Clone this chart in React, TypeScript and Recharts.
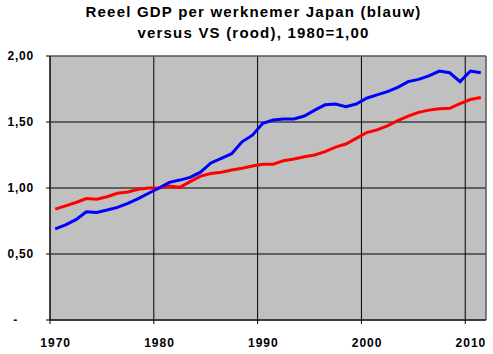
import { CartesianGrid, Line, LineChart, ReferenceArea, XAxis, YAxis } from "recharts";

const years = [
  1970, 1971, 1972, 1973, 1974, 1975, 1976, 1977, 1978, 1979,
  1980, 1981, 1982, 1983, 1984, 1985, 1986, 1987, 1988, 1989,
  1990, 1991, 1992, 1993, 1994, 1995, 1996, 1997, 1998, 1999,
  2000, 2001, 2002, 2003, 2004, 2005, 2006, 2007, 2008, 2009,
  2010, 2011,
];

// Japan (blauw)
const japan = [
  0.69, 0.72, 0.76, 0.82, 0.815, 0.833, 0.853, 0.884, 0.92, 0.96,
  1.0, 1.043, 1.06, 1.08, 1.12, 1.19, 1.225, 1.26, 1.35, 1.4,
  1.49, 1.515, 1.523, 1.523, 1.545, 1.59, 1.63, 1.636, 1.616, 1.636,
  1.68, 1.705, 1.73, 1.763, 1.806, 1.823, 1.85, 1.886, 1.873, 1.806,
  1.886, 1.873,
];

// VS (rood)
const vs = [
  0.84, 0.865, 0.89, 0.92, 0.915, 0.934, 0.96, 0.97, 0.99, 1.0,
  1.0, 1.015, 1.005, 1.048, 1.09, 1.11, 1.12, 1.136, 1.15, 1.167,
  1.18, 1.18, 1.207, 1.22, 1.237, 1.25, 1.275, 1.31, 1.333, 1.376,
  1.42, 1.44, 1.47, 1.51, 1.545, 1.573, 1.59, 1.6, 1.604, 1.64,
  1.67, 1.685,
];

const yTicks = [0, 0.5, 1, 1.5, 2];
// category boundaries (Excel draws gridlines between categories)
const xBoundaries = [1969.5, 1979.5, 1989.5, 1999.5, 2009.5];

const data = years.map((y, i) => ({ year: y, japan: japan[i], vs: vs[i] }));

const W = 493;
const H = 354;
const PLOT_LEFT = 50;
const PLOT_RIGHT = 486;
const HALF_YEAR = (PLOT_RIGHT - PLOT_LEFT) / years.length / 2;

const font = "'Liberation Sans', Arial, sans-serif";

function XTick(props: any) {
  const { x, y, payload } = props;
  return (
    <text
      x={x + HALF_YEAR + 0.5}
      y={y}
      dy="0.71em"
      textAnchor="middle"
      fontFamily={font}
      fontWeight="bold"
      fontSize={12}
      letterSpacing={1}
      fill="#000"
    >
      {Math.round(payload.value + 0.5)}
    </text>
  );
}

function YTick(props: any) {
  const { x, y, payload } = props;
  const v = payload.value as number;
  const label = v === 0 ? "-" : v.toFixed(2).replace(".", ",");
  return (
    <text
      x={v === 0 ? x - 15 : x + 1}
      y={y}
      dy="0.355em"
      textAnchor="end"
      fontFamily={font}
      fontWeight="bold"
      fontSize={12}
      letterSpacing={0.8}
      fill="#000"
    >
      {label}
    </text>
  );
}

export default function App() {
  return (
    <div style={{ position: "absolute", left: 0, top: 0, width: W, height: H, background: "#fff" }}>
      <div
        style={{
          position: "absolute",
          left: 0,
          top: 0.5,
          width: 507,
          textAlign: "center",
          fontFamily: font,
          fontWeight: "bold",
          fontSize: 15,
          letterSpacing: "1.2px",
          lineHeight: "21.5px",
          color: "#000",
        }}
      >
        Reeel GDP per werknemer Japan (blauw)
        <br />
        versus VS (rood), 1980=1,00
      </div>
      <LineChart
        width={W}
        height={H}
        data={data}
        margin={{ top: 56, right: W - PLOT_RIGHT, bottom: 0, left: 0 }}
      >
        <CartesianGrid stroke="#000" fill="#C0C0C0" fillOpacity={1} />
        <XAxis
          dataKey="year"
          type="number"
          domain={[1969.5, 2011.5]}
          ticks={xBoundaries}
          interval={0}
          height={H - 320}
          tickSize={4}
          tickMargin={14}
          stroke="#000"
          tick={<XTick />}
        />
        <YAxis
          type="number"
          domain={[0, 2]}
          ticks={yTicks}
          interval={0}
          width={PLOT_LEFT}
          tickSize={4}
          tickMargin={13}
          stroke="#000"
          tick={<YTick />}
        />
        <ReferenceArea x1={1969.5} x2={2011.5} y1={0} y2={2} fill="none" stroke="#808080" strokeWidth={1} />
        <Line
          dataKey="vs"
          stroke="#FF0000"
          strokeWidth={3}
          dot={false}
          isAnimationActive={false}
        />
        <Line
          dataKey="japan"
          stroke="#0000FF"
          strokeWidth={3}
          dot={false}
          isAnimationActive={false}
        />
      </LineChart>
    </div>
  );
}
